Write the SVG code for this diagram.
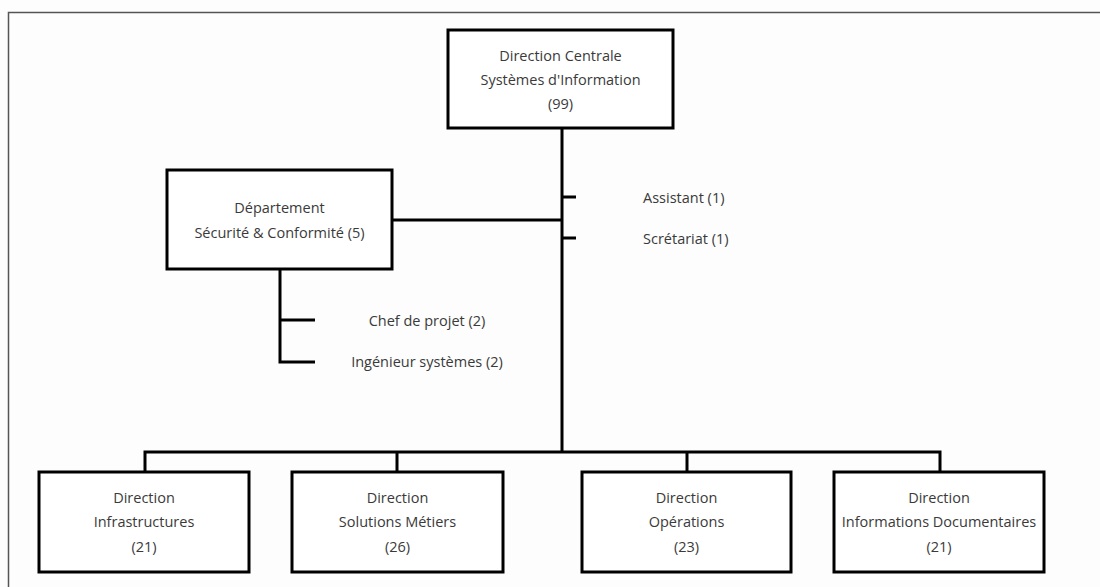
<svg xmlns="http://www.w3.org/2000/svg" width="1100" height="587" viewBox="0 0 1100 587">
<style>
.box{fill:#fff;stroke:#000;stroke-width:3}
.ln{fill:none;stroke:#000;stroke-width:3}
text{font-family:"Open Sans","Liberation Sans",Arial,sans-serif;font-size:14.5px;fill:#3a3a3a;text-anchor:middle;dominant-baseline:central}
.l{text-anchor:start}
</style>
<rect x="0" y="0" width="1100" height="587" fill="#fdfdfd"/>
<path d="M8.5 587 V12.5 H1100" fill="none" stroke="#555" stroke-width="1.5"/>
<g id="connectors">
<path class="ln" d="M562 128 V452"/>
<path class="ln" d="M392 220 H562"/>
<path class="ln" d="M562 197 H576 M562 238 H576"/>
<path class="ln" d="M280 269 V362 H315 M280 320 H315"/>
<path class="ln" d="M145 472 V452 H940 V472 M397 452 V472 M687 452 V472"/>
</g>
<g id="dcsi">
<rect class="box" x="448" y="30" width="225" height="98"/>
<text x="560.5" y="55">Direction Centrale</text>
<text x="560.5" y="79">Systèmes d'Information</text>
<text x="560.5" y="103">(99)</text>
</g>
<g id="dept">
<rect class="box" x="167" y="170" width="225" height="99"/>
<text x="279.5" y="207">Département</text>
<text x="279.5" y="232">Sécurité &amp; Conformité (5)</text>
</g>
<g id="assistant"><text class="l" x="643" y="197">Assistant (1)</text></g>
<g id="secretariat"><text class="l" x="643" y="238">Scrétariat (1)</text></g>
<g id="chef"><text x="427" y="320">Chef de projet (2)</text></g>
<g id="ingenieur"><text x="427" y="361">Ingénieur systèmes (2)</text></g>
<g id="infra">
<rect class="box" x="39" y="472" width="210" height="100"/>
<text x="144" y="497">Direction</text>
<text x="144" y="521">Infrastructures</text>
<text x="144" y="546">(21)</text>
</g>
<g id="solutions">
<rect class="box" x="292" y="472" width="211" height="100"/>
<text x="397.5" y="497">Direction</text>
<text x="397.5" y="521">Solutions Métiers</text>
<text x="397.5" y="546">(26)</text>
</g>
<g id="operations">
<rect class="box" x="582" y="472" width="209" height="100"/>
<text x="686.5" y="497">Direction</text>
<text x="686.5" y="521">Opérations</text>
<text x="686.5" y="546">(23)</text>
</g>
<g id="infodoc">
<rect class="box" x="834" y="472" width="210" height="100"/>
<text x="939" y="497">Direction</text>
<text x="939" y="521">Informations Documentaires</text>
<text x="939" y="546">(21)</text>
</g>
</svg>
